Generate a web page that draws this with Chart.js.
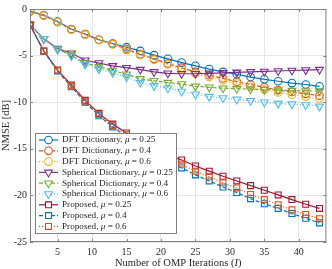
<!DOCTYPE html>
<html>
<head>
<meta charset="utf-8">
<script src="https://cdn.jsdelivr.net/npm/chart.js@4"></script>
<style>
  html, body { margin: 0; padding: 0; background: #fff; }
  #wrap { width: 332px; height: 269px; }
</style>
</head>
<body>
<div id="wrap"><canvas id="chart" width="332" height="269"></canvas></div>
<script>
var iterations = [1, 3, 5, 7, 9, 11, 13, 15, 17, 19, 21, 23, 25, 27, 29, 31, 33, 35, 37, 39, 41, 43];

var dft25 = [-0.25, -0.65, -1.35, -2.15, -2.7, -3.3, -3.7, -4.1, -4.5, -4.95, -5.35, -5.75, -6.1, -6.45, -6.75, -7.0, -7.3, -7.55, -7.75, -7.95, -8.1, -8.3];
var dft40 = [-0.2, -0.7, -1.4, -2.2, -2.7, -3.3, -3.75, -4.3, -4.85, -5.35, -5.85, -6.3, -6.75, -7.1, -7.45, -7.8, -8.1, -8.4, -8.7, -8.9, -9.1, -9.3];
var dft60 = [-0.2, -0.7, -1.4, -2.2, -2.75, -3.35, -3.8, -4.4, -4.95, -5.45, -5.95, -6.45, -6.9, -7.3, -7.65, -8.0, -8.35, -8.65, -8.95, -9.2, -9.4, -9.6];

var sph25 = [-1.7, -3.2, -4.25, -4.75, -5.5, -5.8, -6.1, -6.3, -6.5, -6.75, -6.9, -6.95, -6.95, -6.9, -6.85, -6.8, -6.75, -6.7, -6.65, -6.6, -6.55, -6.5];
var sph40 = [-1.7, -3.2, -4.3, -4.95, -5.8, -6.2, -6.6, -7.0, -7.5, -7.7, -7.9, -8.05, -8.3, -8.4, -8.5, -8.55, -8.6, -8.65, -8.7, -8.75, -8.8, -8.8];
var sph60 = [-1.7, -3.2, -4.35, -5.05, -5.95, -6.45, -6.85, -7.3, -7.9, -8.25, -8.5, -8.85, -9.15, -9.4, -9.55, -9.7, -9.85, -10.0, -10.15, -10.2, -10.3, -10.45];

var prop25 = [-1.7, -4.5, -6.55, -8.15, -9.8, -11.2, -12.35, -13.3, -14.2, -15.0, -15.65, -16.2, -16.85, -17.4, -17.95, -18.45, -18.95, -19.45, -19.95, -20.45, -20.95, -21.4];
var prop40 = [-1.7, -4.55, -6.65, -8.35, -10.0, -11.45, -12.65, -13.7, -14.7, -15.6, -16.4, -17.05, -17.8, -18.45, -19.1, -19.7, -20.35, -20.9, -21.4, -21.95, -22.45, -22.95];
var prop60 = [-1.7, -4.5, -6.6, -8.25, -9.9, -11.3, -12.5, -13.5, -14.45, -15.3, -16.0, -16.65, -17.4, -18.0, -18.65, -19.2, -19.9, -20.45, -21.0, -21.55, -22.05, -22.5];

var methodNames = ['DFT Dictionary', 'DFT Dictionary', 'DFT Dictionary',
                   'Spherical Dictionary', 'Spherical Dictionary', 'Spherical Dictionary',
                   'Proposed', 'Proposed', 'Proposed'];
var muValues = ['0.25', '0.4', '0.6', '0.25', '0.4', '0.6', '0.25', '0.4', '0.6'];
var seriesValues = [dft25, dft40, dft60, sph25, sph40, sph60, prop25, prop40, prop60];

var xTicks = [5, 10, 15, 20, 25, 30, 35, 40];
var yTicks = [0, -5, -10, -15, -20, -25];

// matlab-ish styling
var colors = ['#0072BD', '#D95319', '#EDB120', '#7E2F8E', '#77AC30', '#4DBEEE', '#A2142F', '#0072BD', '#D95319'];
var dashes = [[], [4, 2], [1, 2], [], [4, 2], [1, 2], [], [4, 2], [1, 2]];
var markers = ['circle', 'circle', 'circle', 'triangle', 'triangle', 'triangle', 'rect', 'rect', 'rect'];

var SERIF = '"Liberation Serif", "Times New Roman", serif';

var datasets = seriesValues.map(function (vals, i) {
    var tri = markers[i] === 'triangle';
    return {
        label: methodNames[i] + ', μ = ' + muValues[i],
        data: vals.map(function (v, j) { return { x: iterations[j], y: v }; }),
        borderColor: colors[i],
        backgroundColor: 'rgba(255,255,255,0)',
        borderWidth: 1.2,
        borderDash: dashes[i],
        pointStyle: markers[i],
        pointRotation: tri ? 180 : 0,
        pointRadius: tri ? 4.5 : (markers[i] === 'rect' ? 4.2 : 3.8),
        pointBorderWidth: 1.1,
        pointBackgroundColor: 'rgba(255,255,255,0)',
        pointBorderColor: colors[i],
        tension: 0,
        order: 20 - i
    };
});

// legend inside the axes + box + custom x title
var boxPlugin = {
    id: 'boxPlugin',
    afterDraw: function (chart) {
        var ctx = chart.ctx;
        var a = chart.chartArea;
        ctx.save();
        ctx.strokeStyle = '#808080';
        ctx.lineWidth = 1;
        ctx.setLineDash([]);
        ctx.strokeRect(a.left + 0.5, a.top + 0.5, a.right - a.left - 1, a.bottom - a.top - 1);

        // small inward ticks
        var xs = chart.scales.x, ys = chart.scales.y;
        ctx.beginPath();
        xTicks.forEach(function (t) {
            var px = Math.round(xs.getPixelForValue(t)) + 0.5;
            ctx.moveTo(px, a.bottom); ctx.lineTo(px, a.bottom - 3);
            ctx.moveTo(px, a.top); ctx.lineTo(px, a.top + 3);
        });
        yTicks.forEach(function (t) {
            var py = Math.round(ys.getPixelForValue(t)) + 0.5;
            ctx.moveTo(a.left, py); ctx.lineTo(a.left + 3, py);
            ctx.moveTo(a.right, py); ctx.lineTo(a.right - 3, py);
        });
        ctx.stroke();

        // legend
        var lx = 35, ly = 133, lw = 141, lh = 100, row = 10.8;
        var fs = 9.2;
        ctx.fillStyle = '#fff';
        ctx.fillRect(lx, ly, lw, lh);
        ctx.strokeStyle = '#808080';
        ctx.strokeRect(lx + 0.5, ly + 0.5, lw, lh);
        ctx.textBaseline = 'middle';
        chart.data.datasets.forEach(function (ds, i) {
            var cy = ly + 7 + i * row;
            ctx.strokeStyle = ds.borderColor;
            ctx.lineWidth = 1.2;
            ctx.setLineDash(ds.borderDash);
            ctx.beginPath();
            ctx.moveTo(lx + 4, cy); ctx.lineTo(lx + 23, cy);
            ctx.stroke();
            ctx.setLineDash([]);
            ctx.fillStyle = '#fff';
            ctx.lineWidth = ds.pointBorderWidth;
            Chart.helpers.drawPoint(ctx, {
                pointStyle: ds.pointStyle,
                rotation: ds.pointRotation,
                radius: ds.pointRadius,
                borderWidth: ds.pointBorderWidth
            }, lx + 13.5, cy);

            ctx.fillStyle = '#262626';
            var tx = lx + 27;
            ctx.font = fs + 'px ' + SERIF;
            var s1 = methodNames[i] + ', ';
            ctx.fillText(s1, tx, cy);
            tx += ctx.measureText(s1).width;
            ctx.font = 'italic ' + fs + 'px ' + SERIF;
            ctx.fillText('μ', tx, cy);
            tx += ctx.measureText('μ').width;
            ctx.font = fs + 'px ' + SERIF;
            ctx.fillText(' = ' + muValues[i], tx, cy);
        });

        // x title with italic I
        var t1 = 'Number of OMP Iterations (', t2 = 'I', t3 = ')';
        ctx.font = '10.5px ' + SERIF;
        var w1 = ctx.measureText(t1).width, w3 = ctx.measureText(t3).width;
        ctx.font = 'italic 10.5px ' + SERIF;
        var w2 = ctx.measureText(t2).width;
        var cx = (a.left + a.right) / 2;
        var sx = cx - (w1 + w2 + w3) / 2;
        ctx.fillStyle = '#262626';
        ctx.textBaseline = 'middle';
        ctx.textAlign = 'left';
        ctx.font = '10.5px ' + SERIF;
        ctx.fillText(t1, sx, 263);
        ctx.font = 'italic 10.5px ' + SERIF;
        ctx.fillText(t2, sx + w1, 263);
        ctx.font = '10.5px ' + SERIF;
        ctx.fillText(t3, sx + w1 + w2, 263);
        ctx.restore();
    }
};

var ctx = document.getElementById('chart');
var chart = new Chart(ctx, {
    type: 'line',
    data: { datasets: datasets },
    options: {
        responsive: false,
        animation: false,
        events: [],
        layout: { padding: { top: 7, right: 4, left: 0, bottom: 0 } },
        plugins: {
            legend: { display: false },
            tooltip: { enabled: false }
        },
        scales: {
            x: {
                type: 'linear',
                min: 1,
                max: 44,
                afterFit: function (s) { s.height = 27; },
                afterBuildTicks: function (s) { s.ticks = xTicks.map(function (v) { return { value: v }; }); },
                ticks: { color: '#262626', font: { family: SERIF, size: 10 }, padding: 4, maxRotation: 0 },
                grid: { color: '#e6e6e6', drawTicks: false },
                border: { display: false }
            },
            y: {
                min: -25,
                max: 0,
                afterFit: function (s) { s.width = 30; },
                afterBuildTicks: function (s) { s.ticks = yTicks.map(function (v) { return { value: v }; }); },
                ticks: { color: '#262626', font: { family: SERIF, size: 10 }, padding: 3 },
                grid: { color: '#e6e6e6', drawTicks: false },
                border: { display: false },
                title: { display: true, text: 'NMSE [dB]', color: '#262626', font: { family: SERIF, size: 10.5 }, padding: 0 }
            }
        }
    },
    plugins: [boxPlugin]
});
</script>
</body>
</html>
